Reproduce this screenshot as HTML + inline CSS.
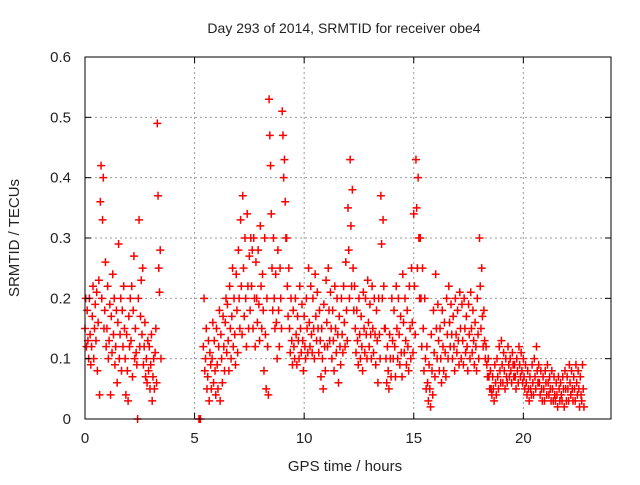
<!DOCTYPE html>
<html><head><meta charset="utf-8"><style>
body{margin:0;background:#fff;}
svg text{font-family:"Liberation Sans",sans-serif;fill:#222;}
</style></head><body>
<svg id="chart" width="640" height="480" xmlns="http://www.w3.org/2000/svg">
<rect width="640" height="480" fill="#fff"/>
<text x="344" y="33" font-size="14" text-anchor="middle">Day 293 of 2014, SRMTID for receiver obe4</text>
<text x="345" y="471" font-size="15" text-anchor="middle">GPS time / hours</text>
<text transform="translate(19,238) rotate(-90)" font-size="15" text-anchor="middle">SRMTID / TECUs</text>
<g id="grid"></g>
<g id="marks"></g>
<rect x="85" y="57" width="526" height="362" fill="none" stroke="#000" stroke-width="1"/>
<g id="ticks"></g>
</svg>
<script>
const xTicks=[0,5,10,15,20];
const yTicks=[0,0.1,0.2,0.3,0.4,0.5,0.6];
const yTickLabels=["0","0.1","0.2","0.3","0.4","0.5","0.6"];
const hours=[0.0,0.1,0.2,0.3,0.4,0.5,0.6,0.7,0.8,0.9,1.0,1.1,1.2,1.3,1.4,1.5,1.6,1.7,1.8,1.9,2.0,2.1,2.2,2.3,2.4,2.5,2.6,2.7,2.8,2.9,3.0,3.1,3.2,3.3,3.4,
5.2,5.4,5.5,5.6,5.7,5.8,5.9,6.0,6.1,6.2,6.3,6.4,6.5,6.6,6.7,6.8,6.9,7.0,7.1,7.2,7.3,7.4,7.5,7.6,7.7,7.8,7.9,8.0,8.1,8.2,8.3,8.4,8.5,8.6,8.7,8.8,8.9,9.0,9.1,9.2,9.3,9.4,9.5,9.6,9.7,9.8,9.9,
10.0,10.1,10.2,10.3,10.4,10.5,10.6,10.7,10.8,10.9,11.0,11.1,11.2,11.3,11.4,11.5,11.6,11.7,11.8,11.9,12.0,12.1,12.2,12.3,12.4,12.5,12.6,12.7,12.8,12.9,13.0,13.1,13.2,13.3,13.4,13.5,13.6,13.7,13.8,13.9,
14.0,14.1,14.2,14.3,14.4,14.5,14.6,14.7,14.8,14.9,15.0,15.1,15.2,15.3,15.4,15.5,15.6,15.7,15.8,15.9,16.0,16.1,16.2,16.3,16.4,16.5,16.6,16.7,16.8,16.9,17.0,17.1,17.2,17.3,17.4,17.5,17.6,17.7,17.8,17.9,
18.0,18.1,18.2,18.3,18.4,18.5,18.6,18.7,18.8,18.9,19.0,19.1,19.2,19.3,19.4,19.5,19.6,19.7,19.8,19.9,20.0,20.1,20.2,20.3,20.4,20.5,20.6,20.7,20.8,20.9,21.0,21.1,21.2,21.3,21.4,21.5,21.6,21.7,21.8,21.9,
22.0,22.1,22.2,22.3,22.4,22.5,22.6,22.7];
const tecu=[[.15,.2,.12],[.18,.13,.1],[.2,.14,.09],[.12,.17,.22],[.1,.15,.19],[.13,.21,.08],[.16,.23,.04],[.36,.42,.2],[.33,.4,.15],[.18,.26,.12],[.15,.22,.1],[.13,.19,.04],[.17,.11,.24],[.14,.2,.09],[.12,.18,.06],[.16,.29,.1],[.14,.2,.08],[.18,.12,.22],[.15,.1,.04],[.14,.08,.03],[.17,.12,.2],[.13,.22,.07],[.18,.27,.1],[.15,.11,.09],[0,.2,.33],[.12,.17,.23],[.14,.25,.09],[.12,.16,.07],[.1,.06,.13],[.08,.12,.05],[.09,.14,.03],[.07,.1,.05],[.11,.15,.06],[.49,.37,.25],[.21,.28,.1],
[0,0,0],[.12,.2,.08],[.1,.15,.05],[.07,.13,.03],[.11,.09,.05],[.1,.16,.06],[.13,.08,.04],[.15,.09,.05],[.12,.18,.03],[.14,.1,.06],[.17,.12,.08],[.16,.2,.11],[.19,.13,.08],[.22,.15,.1],[.17,.25,.12],[.2,.14,.09],[.24,.18,.11],[.28,.2,.15],[.33,.22,.14],[.37,.25,.17],[.3,.2,.12],[.34,.22,.15],[.27,.18,.3],[.22,.28,.15],[.3,.2,.12],[.26,.2,.16],[.28,.19,.13],[.32,.22,.15],[.24,.18,.08],[.3,.14,.05],[.2,.12,.04],[.53,.47,.42],[.34,.25,.18],[.3,.2,.15],[.24,.16,.1],[.28,.18,.12],[.25,.2,.15],[.51,.47,.4],[.43,.36,.3],[.3,.22,.17],[.25,.15,.11],[.2,.13,.09],[.18,.12,.1],[.2,.14,.09],[.17,.13,.1],[.22,.15,.11],[.19,.13,.08],
[.17,.12,.1],[.2,.15,.11],[.25,.16,.12],[.22,.14,.11],[.2,.15,.1],[.24,.17,.13],[.21,.15,.11],[.18,.13,.07],[.15,.1,.05],[.19,.12,.08],[.23,.16,.12],[.25,.18,.13],[.21,.15,.1],[.18,.13,.08],[.22,.15,.11],[.2,.14,.06],[.17,.12,.09],[.2,.14,.11],[.22,.16,.12],[.26,.18,.13],[.35,.28,.2],[.43,.32,.22],[.38,.25,.18],[.22,.15,.11],[.18,.13,.09],[.2,.14,.1],[.17,.12,.08],[.21,.15,.11],[.2,.14,.1],[.23,.16,.12],[.19,.14,.1],[.22,.15,.11],[.2,.14,.09],[.18,.13,.06],[.2,.14,.1],[.37,.29,.2],[.33,.22,.15],[.15,.1,.06],[.12,.08,.05],[.14,.1,.07],
[.2,.13,.1],[.18,.12,.07],[.22,.15,.1],[.2,.14,.09],[.17,.11,.07],[.24,.16,.11],[.2,.13,.09],[.18,.12,.08],[.22,.15,.1],[.25,.16,.11],[.34,.22,.14],[.43,.35,.25],[.4,.3,.2],[.3,.2,.12],[.25,.15,.08],[.2,.1,.05],[.12,.06,.03],[.09,.05,.02],[.14,.08,.04],[.18,.11,.07],[.24,.15,.1],[.19,.13,.08],[.15,.1,.06],[.18,.12,.08],[.16,.11,.07],[.2,.14,.1],[.22,.16,.12],[.19,.14,.1],[.17,.12,.08],[.2,.14,.11],[.18,.13,.09],[.21,.15,.1],[.19,.13,.09],[.2,.15,.11],[.17,.12,.08],[.19,.14,.1],[.21,.15,.11],[.18,.13,.09],[.16,.12,.08],[.2,.14,.1],
[.3,.22,.15],[.25,.17,.12],[.18,.13,.1],[.12,.09,.07],[.1,.07,.05],[.08,.05,.04],[.07,.05,.03],[.09,.06,.04],[.1,.07,.05],[.12,.08,.06],[.13,.09,.06],[.11,.08,.05],[.1,.07,.06],[.12,.09,.07],[.1,.08,.06],[.11,.09,.07],[.09,.07,.05],[.1,.08,.06],[.12,.09,.07],[.11,.08,.06],[.1,.07,.05],[.09,.06,.04],[.08,.05,.03],[.07,.05,.04],[.09,.06,.04],[.1,.07,.05],[.12,.08,.06],[.09,.06,.04],[.08,.05,.03],[.07,.05,.03],[.08,.06,.04],[.09,.06,.04],[.07,.05,.03],[.08,.05,.03],[.07,.04,.03],[.06,.04,.02],[.07,.05,.03],[.06,.04,.03],[.07,.05,.02],[.08,.05,.03],
[.07,.05,.03],[.09,.06,.04],[.08,.05,.03],[.07,.05,.03],[.09,.06,.04],[.08,.05,.02],[.07,.04,.03],[.09,.05,.02]];

const X0=85,X1=611,Y0=419,Y1=57;
function xs(h){return X0+(h/24)*(X1-X0);}
function ys(v){return Y0-(v/0.6)*(Y0-Y1);}
const NS="http://www.w3.org/2000/svg";
const grid=document.getElementById('grid'),ticks=document.getElementById('ticks'),marks=document.getElementById('marks');
function mk(tag,attrs,parent){const e=document.createElementNS(NS,tag);for(const k in attrs)e.setAttribute(k,attrs[k]);parent.appendChild(e);return e;}
xTicks.forEach(t=>{
  const x=xs(t);
  if(t>0){const g=mk('line',{x1:x,x2:x,y1:Y0,y2:Y1,stroke:'#999','stroke-dasharray':'2,3'},grid);
  
  }
  mk('line',{x1:x,x2:x,y1:Y0,y2:Y0-6,stroke:'#000'},ticks);
  mk('line',{x1:x,x2:x,y1:Y1,y2:Y1+6,stroke:'#000'},ticks);
  const l=mk('text',{x:x,y:Y0+24,'font-size':15,'text-anchor':'middle'},ticks);l.textContent=t;
  
  
});
yTicks.forEach((t,i)=>{
  const y=ys(t);
  if(t>0&&t<0.6){const g=mk('line',{x1:X0,x2:X1,y1:y,y2:y,stroke:'#999','stroke-dasharray':'2,3'},grid);
  
  }
  mk('line',{x1:X0,x2:X0+6,y1:y,y2:y,stroke:'#000'},ticks);
  mk('line',{x1:X1,x2:X1-6,y1:y,y2:y,stroke:'#000'},ticks);
  const l=mk('text',{x:X0-14,y:y+5,'font-size':15,'text-anchor':'end'},ticks);l.textContent=yTickLabels[i];
  
  
});
let d='';
hours.forEach((h,i)=>{
  tecu[i].forEach((v,j)=>{
    const x=xs(h+j*0.033),y=ys(v);
    d+='M'+(x-4)+' '+y+'h8M'+x+' '+(y-4)+'v8';
  });
});
const p=mk('path',{d:d,stroke:'#f00','stroke-width':1.5,fill:'none'},marks);


</script>
</body></html>
